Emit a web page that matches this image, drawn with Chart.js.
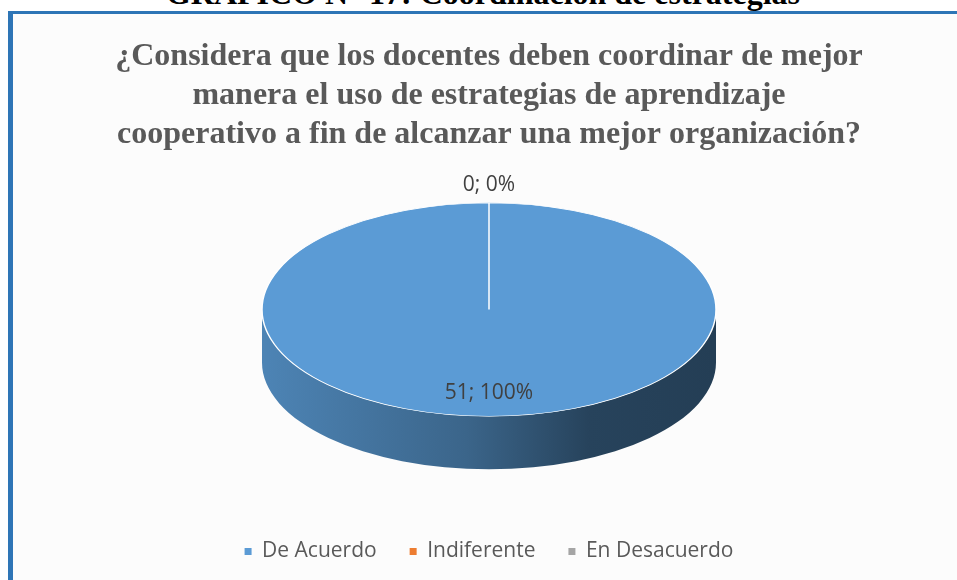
<!DOCTYPE html>
<html>
<head>
<meta charset="utf-8">
<script src="https://cdn.jsdelivr.net/npm/chart.js@4.4.1/dist/chart.umd.min.js"></script>
<style>
  html, body { margin: 0; padding: 0; background: #ffffff; overflow: hidden; }
  body { width: 957px; height: 580px; position: relative; }
  #heading {
    position: absolute; left: 0; width: 966px; top: -23px;
    text-align: center; white-space: nowrap;
    font: bold 32px "Liberation Serif", "Times New Roman", serif;
    line-height: 32px; color: #000000;
  }
  #frame {
    position: absolute; left: 8px; top: 11px; width: 1000px; height: 620px;
    border-left: 5px solid #2e75b6; border-top: 3px solid #2e75b6;
    background: #fcfcfc;
  }
  #wrap { position: absolute; left: 13px; top: 14px; width: 944px; height: 566px; }
</style>
</head>
<body>
<div id="heading">GRÁFICO N° 17: Coordinación de estrategias</div>
<div id="frame"></div>
<div id="wrap"><canvas id="pieChart" width="944" height="566"></canvas></div>
<script>
// datos del gráfico
const categories = ["De Acuerdo", "Indiferente", "En Desacuerdo"];
const counts = [51, 0, 0];
const sliceColors = ["#5b9bd5", "#ed7d31", "#a5a5a5"];
const titleLines = [
  "¿Considera que los docentes deben coordinar de mejor",
  "manera el uso de estrategias de aprendizaje",
  "cooperativo a fin de alcanzar una mejor organización?"
];

// aspecto 3D
const DEPTH = 53;
const TILT = 0.47;

function shade(hex, f) {
  const n = parseInt(hex.slice(1), 16);
  const r = Math.round(((n >> 16) & 255) * f);
  const g = Math.round(((n >> 8) & 255) * f);
  const b = Math.round((n & 255) * f);
  return `rgb(${r},${g},${b})`;
}

// dibuja el costado del pastel y aplasta la cara superior en elipse
const pie3d = {
  id: "pie3d",
  beforeDatasetDraw(chart, args) {
    const arcs = args.meta.data;
    if (!arcs.length) return;
    const ctx = chart.ctx;
    const { x, y, outerRadius: r } = arcs[0];
    const top = y - DEPTH / 2;

    ctx.save();
    arcs.forEach((arc, i) => {
      if (arc.endAngle - arc.startAngle <= 0) return;
      const base = sliceColors[i];
      const grad = ctx.createLinearGradient(x - r, 0, x + r, 0);
      grad.addColorStop(0, shade(base, 0.85));
      grad.addColorStop(0.45, shade(base, 0.65));
      grad.addColorStop(0.72, shade(base, 0.43));
      grad.addColorStop(1, shade(base, 0.4));
      [-2 * Math.PI, 0, 2 * Math.PI].forEach(shift => {
        const a0 = Math.max(arc.startAngle + shift, 0);
        const a1 = Math.min(arc.endAngle + shift, Math.PI);
        if (a1 <= a0) return;
        ctx.beginPath();
        ctx.ellipse(x, top, r, r * TILT, 0, a0, a1);
        ctx.ellipse(x, top + DEPTH, r, r * TILT, 0, a1, a0, true);
        ctx.closePath();
        ctx.fillStyle = grad;
        ctx.fill();
      });
    });
    ctx.restore();

    ctx.save();
    ctx.translate(x, top);
    ctx.scale(1, TILT);
    ctx.translate(-x, -y);
  },
  afterDatasetDraw(chart) {
    chart.ctx.restore();
  }
};

// etiquetas "valor; porcentaje"
const sliceLabels = {
  id: "sliceLabels",
  afterDatasetsDraw(chart) {
    const meta = chart.getDatasetMeta(0);
    const data = chart.data.datasets[0].data;
    const total = data.reduce((a, b) => a + b, 0);
    const ctx = chart.ctx;
    const seen = new Set();
    ctx.save();
    ctx.font = '21px "Open Sans"';
    ctx.fillStyle = "#404040";
    ctx.textAlign = "center";
    ctx.textBaseline = "middle";
    meta.data.forEach((arc, i) => {
      const v = data[i];
      const text = v + "; " + Math.round(v / total * 100) + "%";
      const mid = (arc.startAngle + arc.endAngle) / 2;
      const r = arc.outerRadius;
      const top = arc.y - DEPTH / 2;
      let lx, ly;
      if (v === 0) {
        lx = arc.x + Math.cos(mid) * (r + 18);
        ly = top + Math.sin(mid) * (r * TILT + 18);
      } else {
        lx = arc.x + Math.cos(mid) * r * 0.75;
        ly = top + Math.sin(mid) * r * TILT * 0.78;
      }
      const key = Math.round(lx) + "," + Math.round(ly);
      if (seen.has(key)) return;
      seen.add(key);
      ctx.fillText(text, lx, ly);
    });
    ctx.restore();
  }
};

const ctx = document.getElementById("pieChart").getContext("2d");
new Chart(ctx, {
  type: "pie",
  data: {
    labels: categories,
    datasets: [{
      data: counts,
      backgroundColor: sliceColors,
      borderColor: "#ffffff",
      borderWidth: 1.5,
      radius: 227
    }]
  },
  options: {
    responsive: false,
    animation: false,
    layout: { padding: { left: 8, bottom: 8 } },
    plugins: {
      title: {
        display: true,
        text: titleLines,
        color: "#595959",
        font: { family: "Liberation Serif", size: 32, weight: "bold", lineHeight: 1.22 },
        padding: { top: 23, bottom: 10 }
      },
      legend: {
        position: "bottom",
        labels: {
          boxWidth: 7,
          boxHeight: 7,
          color: "#595959",
          padding: 33,
          font: { family: "Open Sans", size: 21 },
          generateLabels(chart) {
            return Chart.overrides.pie.plugins.legend.labels.generateLabels(chart)
              .map(l => ({ ...l, lineWidth: 0 }));
          }
        }
      },
      tooltip: { enabled: false }
    }
  },
  plugins: [pie3d, sliceLabels]
});
</script>
</body>
</html>
